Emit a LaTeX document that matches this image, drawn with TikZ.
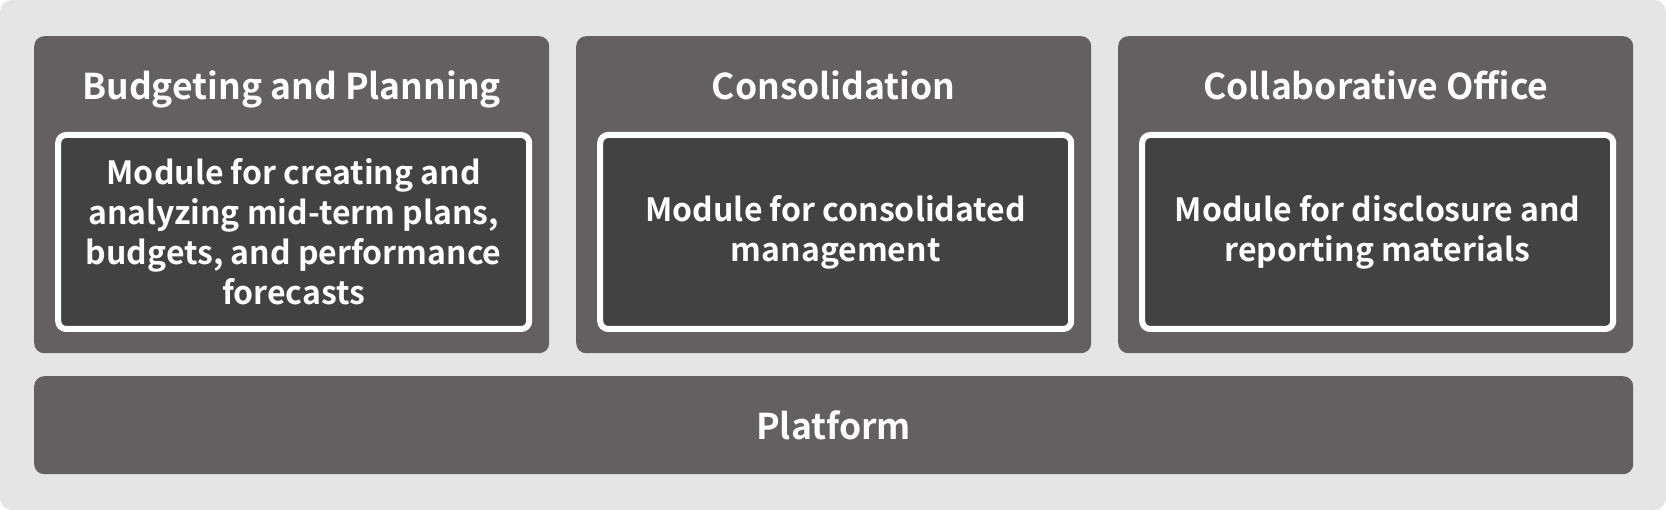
\documentclass[tikz,border=0pt]{standalone}
\usepackage{fontspec}
\setmainfont{Noto Sans CJK JP}[BoldFont={* Bold}]
\usetikzlibrary{positioning,calc}
\definecolor{bggray}{HTML}{E5E5E5}
\definecolor{groupgray}{HTML}{636061}
\definecolor{modulegray}{HTML}{424242}

\begin{document}
\begin{tikzpicture}[x=1pt,y=-1pt,
  group/.style={fill=groupgray,rounded corners=10pt,inner sep=0pt,minimum width=515pt,minimum height=317pt,anchor=north west},
  title/.style={text=white,font=\bfseries\fontsize{35.5}{40}\selectfont,anchor=base},
  module/.style={fill=modulegray,draw=white,line width=6pt,rounded corners=8pt,minimum width=471pt,minimum height=194pt,
    text=white,align=center,font=\bfseries\fontsize{32}{40}\selectfont}]
% background
\useasboundingbox (0,0) rectangle (1666,510);
\fill[bggray,rounded corners=12pt] (0,0) rectangle (1666,510);

% module groups
\node[group] (budget) at (34,36) {};
\node[group] (consol) at (576,36) {};
\node[group] (collab) at (1118,36) {};

\node[title] (budgettitle) at ($(budget.north)+(0,64)$) {Budgeting and Planning};
\node[title] (consoltitle) at ($(consol.north)+(0,64)$) {Consolidation};
\node[title] (collabtitle) at ($(collab.north)+(0,64)$) {Collaborative Office};

\node[module] (budgetmod) at ($(budget.north)+(2,196)$) {Module for creating and\\analyzing mid-term plans,\\budgets, and performance\\forecasts};
\node[module] (consolmod) at ($(consol.north)+(2,196)$) {Module for consolidated\\management};
\node[module] (collabmod) at ($(collab.north)+(2,196)$) {Module for disclosure and\\reporting materials};

% platform
\node[group,minimum width=1599pt,minimum height=98pt] (platform) at (34,376) {};
\node[title,anchor=center] (platformtitle) at (platform.center) {Platform};
\end{tikzpicture}
\end{document}
